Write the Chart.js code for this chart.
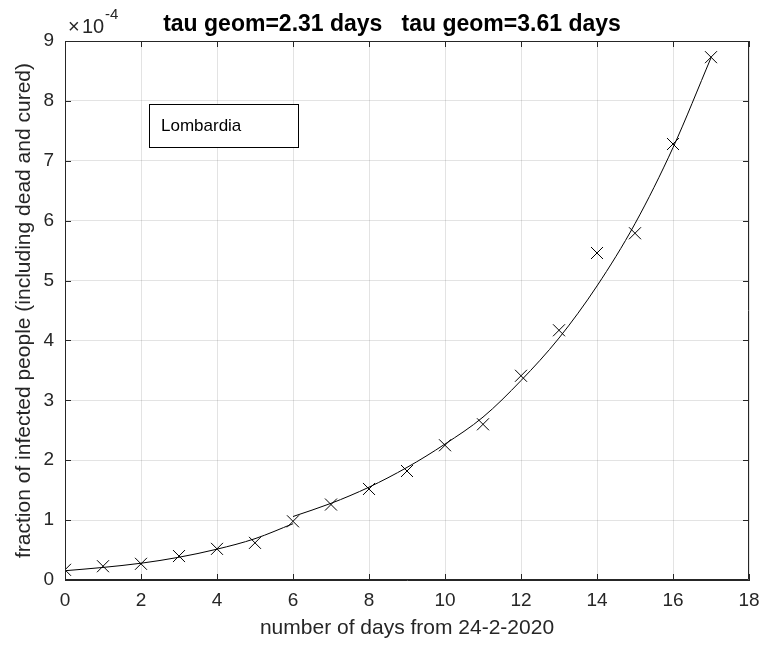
<!DOCTYPE html>
<html>
<head>
<meta charset="utf-8">
<script src="https://cdn.jsdelivr.net/npm/chart.js@4.4.1/dist/chart.umd.min.js"></script>
<style>
  html, body { margin: 0; padding: 0; background: #ffffff; }
  #wrap { width: 763px; height: 646px; }
</style>
</head>
<body>
<div id="wrap"><canvas id="chart" width="763" height="646"></canvas></div>
<script>
// Days counted from 24-2-2020
const days = [0, 1, 2, 3, 4, 5, 6, 7, 8, 9, 10, 11, 12, 13, 14, 15, 16, 17];
// Fraction of infected people, in units of 1e-4
const infected = [0.17, 0.23, 0.27, 0.40, 0.52, 0.62, 0.98, 1.26, 1.52, 1.82, 2.25, 2.60, 3.41, 4.17, 5.46, 5.79, 7.28, 8.73];

// Geometric growth fits (first and second period)
const fitEarlyDays = [0, 1, 2, 3, 4, 5, 6];
const fitEarly = [0.155, 0.21, 0.28, 0.38, 0.515, 0.69, 0.94];
const fitLateDays = [6, 7, 8, 9, 10, 11, 12, 13, 14, 15, 16, 17];
const fitLate = [1.06, 1.28, 1.55, 1.88, 2.27, 2.72, 3.33, 4.04, 4.91, 5.95, 7.22, 8.72];

const xTicks = [0, 2, 4, 6, 8, 10, 12, 14, 16, 18];
const yTicks = [0, 1, 2, 3, 4, 5, 6, 7, 8, 9];

const titleText = 'tau geom=2.31 days   tau geom=3.61 days';
const xLabel = 'number of days from 24-2-2020';
const yLabel = 'fraction of infected people (including dead and cured)';
const regionName = 'Lombardia';

const AXIS = '#262626';
const GRID = 'rgba(38,38,38,0.13)';
const FONT = '"Liberation Sans", Arial, Helvetica, sans-serif';

const toPoints = (xs, ys) => xs.map((x, i) => ({ x: x, y: ys[i] }));

// Box, inward ticks on all sides, title, exponent and the text box
const decorations = {
  id: 'decorations',
  afterDraw(chart) {
    const { ctx, chartArea: a, scales } = chart;
    const tl = 6;
    ctx.save();
    ctx.strokeStyle = AXIS;
    ctx.lineWidth = 1;
    ctx.beginPath();
    ctx.rect(a.left + 0.5, a.top + 0.5, a.right - a.left - 1, a.bottom - a.top - 1);
    ctx.stroke();
    ctx.beginPath();
    xTicks.forEach(v => {
      const px = Math.round(scales.x.getPixelForValue(v)) + 0.5;
      ctx.moveTo(px, a.bottom); ctx.lineTo(px, a.bottom - tl);
      ctx.moveTo(px, a.top); ctx.lineTo(px, a.top + tl);
    });
    yTicks.forEach(v => {
      const py = Math.round(scales.y.getPixelForValue(v)) + 0.5;
      ctx.moveTo(a.left, py); ctx.lineTo(a.left + tl, py);
      ctx.moveTo(a.right, py); ctx.lineTo(a.right - tl, py);
    });
    ctx.stroke();

    // title
    ctx.fillStyle = '#000000';
    ctx.font = 'bold 23px ' + FONT;
    ctx.textAlign = 'center';
    ctx.textBaseline = 'alphabetic';
    ctx.fillText(titleText, 392, 31);

    // exponent of the y values
    ctx.fillStyle = AXIS;
    ctx.textAlign = 'left';
    ctx.font = '20px ' + FONT;
    ctx.fillText('\u00d7', 68, 33);
    ctx.fillText('10', 82, 33);
    ctx.font = '15px ' + FONT;
    ctx.fillText('-4', 105, 19);

    // text box
    ctx.fillStyle = '#ffffff';
    ctx.fillRect(149, 104, 149, 43);
    ctx.strokeStyle = '#000000';
    ctx.strokeRect(149.5, 104.5, 149, 43);
    ctx.fillStyle = '#000000';
    ctx.font = '17px ' + FONT;
    ctx.textBaseline = 'middle';
    ctx.fillText(regionName, 161, 126);
    ctx.restore();
  }
};

new Chart(document.getElementById('chart'), {
  type: 'scatter',
  data: {
    datasets: [
      {
        data: toPoints(days, infected),
        showLine: false,
        pointStyle: 'crossRot',
        pointRadius: 8.5,
        pointBorderWidth: 1,
        pointBorderColor: '#000000',
        pointBackgroundColor: '#000000'
      },
      {
        data: toPoints(fitEarlyDays, fitEarly),
        showLine: true,
        pointRadius: 0,
        borderColor: '#000000',
        borderWidth: 1,
        cubicInterpolationMode: 'monotone'
      },
      {
        data: toPoints(fitLateDays, fitLate),
        showLine: true,
        pointRadius: 0,
        borderColor: '#000000',
        borderWidth: 1,
        cubicInterpolationMode: 'monotone'
      }
    ]
  },
  options: {
    responsive: false,
    animation: false,
    devicePixelRatio: 1,
    layout: { autoPadding: false, padding: { top: 41, right: 14, left: 0, bottom: 0 } },
    plugins: { legend: { display: false }, tooltip: { enabled: false }, title: { display: false } },
    scales: {
      x: {
        type: 'linear', min: 0, max: 18,
        afterBuildTicks: s => { s.ticks = xTicks.map(v => ({ value: v })); },
        afterFit: s => { s.height = 66; s.paddingLeft = 0; s.paddingRight = 0; },
        grid: { color: GRID, drawTicks: false },
        border: { color: AXIS },
        ticks: { color: AXIS, font: { family: FONT, size: 19 }, padding: 9, maxRotation: 0 },
        title: { display: true, text: xLabel, color: AXIS, font: { family: FONT, size: 21 }, padding: { top: 0, bottom: 5 } }
      },
      y: {
        type: 'linear', min: 0, max: 9,
        afterBuildTicks: s => { s.ticks = yTicks.map(v => ({ value: v })); },
        afterFit: s => { s.width = 65; s.paddingTop = 0; s.paddingBottom = 0; },
        grid: { color: GRID, drawTicks: false },
        border: { color: AXIS },
        ticks: { color: AXIS, font: { family: FONT, size: 19 }, padding: 11 },
        title: { display: true, text: yLabel, color: AXIS, font: { family: FONT, size: 21 }, padding: { top: 12, bottom: 0 } }
      }
    }
  },
  plugins: [decorations]
});
</script>
</body>
</html>
